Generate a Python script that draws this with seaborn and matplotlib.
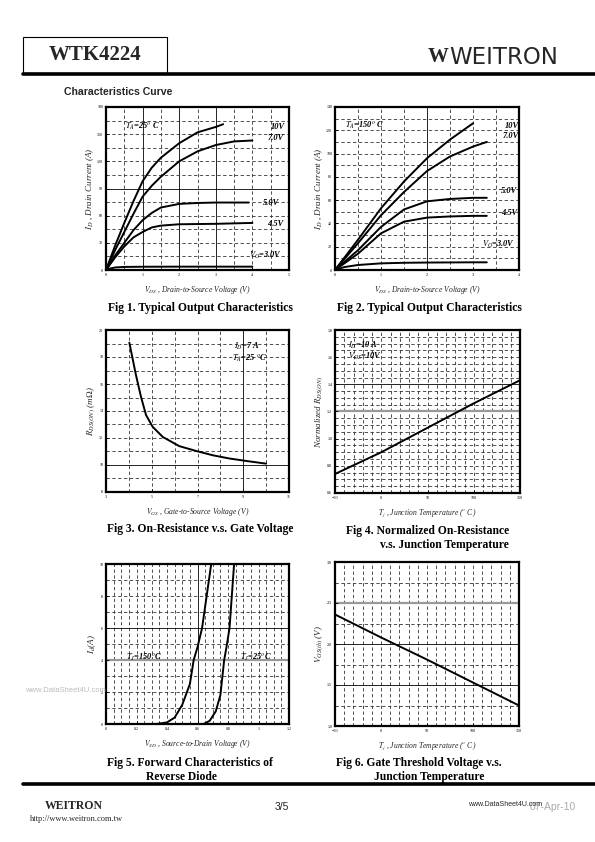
import numpy as np
import pandas as pd
import matplotlib
matplotlib.use('Agg')
import matplotlib.pyplot as plt
import seaborn as sns
from matplotlib.lines import Line2D
from matplotlib.patches import Rectangle

# ---- data ----
# Fig 1: output characteristics, TA = 25 C
f1_vds_10 = [0, 0.25, 0.5, 0.75, 1.0, 1.25, 1.5, 2.0, 2.5, 3.0, 3.2]
f1_id_10 = [0, 27, 52, 76, 98, 113, 124, 140, 152, 158, 161]
f1_vds_7 = [0, 0.25, 0.5, 0.75, 1.0, 1.25, 1.5, 2.0, 2.5, 3.0, 3.5, 4.0]
f1_id_7 = [0, 22, 42, 62, 81, 93, 103, 120, 131, 138, 142, 143]
f1_vds_5 = [0, 0.25, 0.5, 0.75, 1.0, 1.25, 1.5, 2.0, 2.5, 3.0, 3.5, 3.9]
f1_id_5 = [0, 16, 30, 44, 55, 63, 69, 73, 74, 74.5, 74.5, 74.5]
f1_vds_45 = [0, 0.25, 0.5, 0.75, 1.0, 1.25, 1.5, 2.0, 3.0, 4.0]
f1_id_45 = [0, 14, 26, 36, 42, 47, 49, 50.5, 51, 52]
f1_vds_3 = [0, 0.1, 0.25, 0.5, 1.0, 2.0, 3.0, 4.0]
f1_id_3 = [0, 1.5, 2.8, 3.4, 3.6, 3.7, 3.7, 3.7]

# Fig 2: output characteristics, TA = 150 C
f2_vds_10 = [0, 0.5, 1.0, 1.5, 2.0, 2.5, 3.0]
f2_id_10 = [0, 26, 53, 76, 96, 112, 126]
f2_vds_7 = [0, 0.5, 1.0, 1.5, 2.0, 2.5, 3.0, 3.3]
f2_id_7 = [0, 23, 47, 67, 85, 97.5, 106, 110]
f2_vds_5 = [0, 0.5, 1.0, 1.5, 2.0, 2.5, 3.0, 3.3]
f2_id_5 = [0, 17, 37, 52, 59, 61, 62, 62]
f2_vds_45 = [0, 0.5, 1.0, 1.5, 2.0, 2.5, 3.0, 3.3]
f2_id_45 = [0, 14, 31.5, 41.5, 45, 46, 46.5, 46.5]
f2_vds_3 = [0, 0.2, 0.5, 1.0, 1.5, 2.0, 3.0, 3.3]
f2_id_3 = [0, 2.5, 4.3, 5.7, 6.2, 6.4, 6.6, 6.6]

# Fig 3: on-resistance vs gate voltage
f3_vgs = [4.02, 4.31, 4.53, 4.75, 5.04, 5.48, 6.2, 6.94, 7.67, 8.4, 9.13, 10.0]
f3_rds = [19.06, 16.66, 15.05, 13.7, 12.83, 12.08, 11.4, 11.04, 10.72, 10.48, 10.3, 10.1]

# Fig 4: normalized on-resistance vs junction temperature
f4_tj = [-50, 0, 50, 100, 150]
f4_rn = [0.74, 0.90, 1.08, 1.26, 1.43]

# Fig 5: body diode forward characteristics
f5_vsd_150 = [0.33, 0.40, 0.45, 0.50, 0.55, 0.575, 0.60, 0.63, 0.66, 0.69]
f5_is_150 = [0, 0.1, 0.4, 1.2, 2.5, 4.0, 4.8, 6.0, 8.0, 10]
f5_vsd_25 = [0.64, 0.68, 0.72, 0.75, 0.775, 0.79, 0.81, 0.825, 0.84]
f5_is_25 = [0, 0.2, 0.8, 1.8, 4.0, 4.8, 6.0, 8.0, 10]

# Fig 6: gate threshold voltage vs junction temperature
f6_tj = [-50, 0, 50, 100, 150]
f6_vth = [2.36, 2.08, 1.81, 1.53, 1.25]

W, H = 595, 842
sns.set_theme(style='white')
plt.rcParams['font.family'] = ['Liberation Serif', 'DejaVu Serif']
plt.rcParams['mathtext.fontset'] = 'stix'

fig = plt.figure(figsize=(W / 100, H / 100), dpi=100)
fig.patch.set_facecolor('white')


def fx(x):
    return x / W


def fy(y):
    return 1 - y / H


def make_ax(x0, y0, x1, y1):
    ax = fig.add_axes([fx(x0), fy(y1), fx(x1 - x0), (y1 - y0) / H])
    for s in ax.spines.values():
        s.set_color('black')
        s.set_linewidth(1.6)
    ax.tick_params(direction='in', length=2, width=0.6, labelsize=3,
                   pad=2, colors='black', left=True, bottom=True)
    return ax


def grid(ax, xs, ys, solid_x=(), solid_y=(), gray_y=()):
    for v in xs:
        if v in solid_x:
            ax.axvline(v, color='black', lw=0.6, zorder=0)
        else:
            ax.axvline(v, color='#333333', lw=0.6, ls=(0, (4, 3)), zorder=0)
    for v in ys:
        if v in gray_y:
            ax.axhline(v, color='#999999', lw=1.6, zorder=0)
        elif v in solid_y:
            ax.axhline(v, color='black', lw=0.6, zorder=0)
        else:
            ax.axhline(v, color='#333333', lw=0.6, ls=(0, (4, 3)), zorder=0)


def curve(ax, x, y):
    d = pd.DataFrame({'x': x, 'y': y})
    sns.lineplot(data=d, x='x', y='y', ax=ax, color='black', lw=1.4,
                 sort=False, estimator=None)


def labels(ax, xl, yl):
    ax.set_xlabel(xl, fontsize=5.5, style='italic', labelpad=5)
    ax.set_ylabel(yl, fontsize=6.5, style='italic', labelpad=1)


ann = dict(fontsize=6, style='italic', fontweight='bold', color='black')
cap = dict(fontsize=8.4, fontweight='bold', color='black')

# ---- Fig 1 ----
ax1 = make_ax(106, 107, 289, 270)
grid(ax1, [0.5, 1, 1.5, 2, 2.5, 3, 3.5, 4, 4.5],
     [15, 30, 45, 60, 75, 90, 105, 120, 135, 150, 165],
     solid_x=(1, 2, 3), solid_y=(90,))
for x, y in [(f1_vds_10, f1_id_10), (f1_vds_7, f1_id_7), (f1_vds_5, f1_id_5),
             (f1_vds_45, f1_id_45), (f1_vds_3, f1_id_3)]:
    curve(ax1, x, y)
ax1.set_xlim(0, 5)
ax1.set_ylim(0, 180)
ax1.set_xticks([0, 1, 2, 3, 4, 5])
ax1.set_yticks([0, 30, 60, 90, 120, 150, 180])
labels(ax1, r'$V_{DS}$ , Drain-to-Source Voltage (V)', r'$I_D$ , Drain Current (A)')
ax1.text(0.52, 156, r'$T_A$=25$^o$ C', **ann)
ax1.text(4.5, 156, '10V', **ann)
ax1.text(4.43, 144, '7.0V', **ann)
ax1.text(4.28, 72, '5.0V', **ann)
ax1.text(4.39, 49, '4.5V', **ann)
ax1.text(3.9, 13, r'$V_G$=3.0V', **ann)

# ---- Fig 2 ----
ax2 = make_ax(335, 107, 519, 270)
grid(ax2, [0.5, 1, 1.5, 2, 2.5, 3, 3.5],
     [10, 20, 30, 40, 50, 60, 70, 80, 90, 100, 110, 120, 130],
     solid_x=(2,))
for x, y in [(f2_vds_10, f2_id_10), (f2_vds_7, f2_id_7), (f2_vds_5, f2_id_5),
             (f2_vds_45, f2_id_45), (f2_vds_3, f2_id_3)]:
    curve(ax2, x, y)
ax2.set_xlim(0, 4)
ax2.set_ylim(0, 140)
ax2.set_xticks([0, 1, 2, 3, 4])
ax2.set_yticks([0, 20, 40, 60, 80, 100, 120, 140])
labels(ax2, r'$V_{DS}$ , Drain-to-Source Voltage (V)', r'$I_D$ , Drain Current (A)')
ax2.text(0.22, 122, r'$T_A$=150$^o$ C', **ann)
ax2.text(3.7, 122, '10V', **ann)
ax2.text(3.65, 113, '7.0V', **ann)
ax2.text(3.6, 66, '5.0V', **ann)
ax2.text(3.62, 47, '4.5V', **ann)
ax2.text(3.19, 19.5, r'$V_G$=3.0V', **ann)

# ---- Fig 3 ----
ax3 = make_ax(106, 330, 289, 492)
grid(ax3, [4, 5, 6, 7, 8, 9, 10],
     [9, 10, 11, 12, 13, 14, 15, 16, 17, 18, 19],
     solid_x=(9,), solid_y=(10,))
curve(ax3, f3_vgs, f3_rds)
ax3.set_xlim(3, 11)
ax3.set_ylim(8, 20)
ax3.set_xticks([3, 5, 7, 9, 11])
ax3.set_yticks([8, 10, 12, 14, 16, 18, 20])
labels(ax3, r'$V_{GS}$ , Gate-to-Source Voltage (V)', r'$R_{DS(ON)}$ (m$\Omega$)')
ax3.text(8.6, 18.6, r'$I_D$=7 A', **ann)
ax3.text(8.5, 17.7, r'$T_A$=25 $^o$C', **ann)

# ---- Fig 4 ----
ax4 = make_ax(335, 330, 520, 493)
grid(ax4, list(range(-40, 150, 10)),
     [round(0.6 + 0.05 * i, 2) for i in range(1, 24)],
     solid_y=(1.4,), gray_y=(1.2,))
curve(ax4, f4_tj, f4_rn)
ax4.set_xlim(-50, 150)
ax4.set_ylim(0.6, 1.8)
ax4.set_xticks([-50, 0, 50, 100, 150])
ax4.set_yticks([0.6, 0.8, 1.0, 1.2, 1.4, 1.6, 1.8])
labels(ax4, r'$T_j$ , Junction Temperature ($^o$ C)', r'Normalized $R_{DS(ON)}$')
ax4.text(-36, 1.67, r'$I_D$=10 A', **ann)
ax4.text(-36, 1.585, r'$V_{GS}$=10V', **ann)

# ---- Fig 5 ----
ax5 = make_ax(106, 564, 289, 724)
grid(ax5, [round(0.05 * i, 2) for i in range(1, 24)],
     [1, 2, 3, 4, 5, 6, 7, 8, 9],
     solid_x=(0.6,), solid_y=(6,), gray_y=(4,))
curve(ax5, f5_vsd_150, f5_is_150)
curve(ax5, f5_vsd_25, f5_is_25)
ax5.set_xlim(0, 1.2)
ax5.set_ylim(0, 10)
ax5.set_xticks([0, 0.2, 0.4, 0.6, 0.8, 1.0, 1.2])
ax5.set_xticklabels(['0', '0.2', '0.4', '0.6', '0.8', '1', '1.2'])
ax5.set_yticks([0, 2, 4, 6, 8, 10])
labels(ax5, r'$V_{SD}$ , Source-to-Drain Voltage (V)', r'$I_d$(A)')
ax5.text(0.13, 4.05, r'$T_J$=150$^o$C', **ann)
ax5.text(0.88, 4.05, r'$T_J$=25$^o$C', **ann)

# ---- Fig 6 ----
ax6 = make_ax(335, 562, 519, 726)
grid(ax6, list(range(-40, 150, 10)),
     [1.25, 1.5, 1.75, 2.0, 2.25, 2.5, 2.75],
     solid_y=(1.5, 2.0), gray_y=(2.5,))
curve(ax6, f6_tj, f6_vth)
ax6.set_xlim(-50, 150)
ax6.set_ylim(1.0, 3.0)
ax6.set_xticks([-50, 0, 50, 100, 150])
ax6.set_yticks([1.0, 1.5, 2.0, 2.5, 3.0])
labels(ax6, r'$T_j$ , Junction Temperature ($^o$ C)', r'$V_{GS(th)}$ (V)')

# ---- captions ----
fig.text(fx(200), fy(308), 'Fig 1. Typical Output Characteristics', ha='center', va='center', **cap)
fig.text(fx(429), fy(308), 'Fig 2. Typical Output Characteristics', ha='center', va='center', **cap)
fig.text(fx(200), fy(529), 'Fig 3. On-Resistance v.s. Gate Voltage', ha='center', va='center', **cap)
fig.text(fx(509), fy(531), 'Fig 4. Normalized On-Resistance', ha='right', va='center', **cap)
fig.text(fx(509), fy(545), 'v.s. Junction Temperature', ha='right', va='center', **cap)
fig.text(fx(107), fy(763), 'Fig 5. Forward Characteristics of', ha='left', va='center', **cap)
fig.text(fx(146), fy(777), 'Reverse Diode', ha='left', va='center', **cap)
fig.text(fx(336), fy(763), 'Fig 6. Gate Threshold Voltage v.s.', ha='left', va='center', **cap)
fig.text(fx(374), fy(777), 'Junction Temperature', ha='left', va='center', **cap)

# ---- page header ----
fig.add_artist(Rectangle((fx(23), fy(73)), fx(144), 36 / H, transform=fig.transFigure,
                         fill=False, ec='black', lw=0.8))
fig.add_artist(Line2D([fx(23), fx(597)], [fy(73.5), fy(73.5)], transform=fig.transFigure,
                      color='black', lw=2.6))
fig.text(fx(95), fy(55), 'WTK4224', ha='center', va='center', fontsize=15, fontweight='bold')
fig.text(fx(428), fy(57), 'W', ha='left', va='center', fontsize=15, fontweight='bold')
fig.text(fx(449), fy(57), 'WEITRON', ha='left', va='center', fontsize=16.5,
         family=['DejaVu Sans'])
fig.text(fx(64), fy(92), 'Characteristics Curve', ha='left', va='center', fontsize=7.6,
         fontweight='bold', family=['Liberation Sans', 'DejaVu Sans'])

# watermark beside fig 5
fig.text(fx(25), fy(691), 'www.DataSheet4U.com', ha='left', va='center', fontsize=5.5,
         color='#bbbbbb', family=['Liberation Sans', 'DejaVu Sans'])

# ---- page footer ----
fig.add_artist(Line2D([fx(23), fx(597)], [fy(784), fy(784)], transform=fig.transFigure,
                      color='black', lw=2.6))
fig.text(fx(74), fy(806), 'WEITRON', ha='center', va='center', fontsize=8.5, fontweight='bold')
fig.text(fx(30), fy(819), 'http://www.weitron.com.tw', ha='left', va='center', fontsize=6)
fig.text(fx(282), fy(807), '3/5', ha='center', va='center', fontsize=7.5,
         family=['Liberation Sans', 'DejaVu Sans'])
fig.text(fx(530), fy(807), '07-Apr-10', ha='left', va='center', fontsize=7.5,
         color='#aaaaaa', family=['Liberation Sans', 'DejaVu Sans'])
fig.text(fx(468), fy(805), 'www.DataSheet4U.com', ha='left', va='center', fontsize=5,
         family=['Liberation Sans', 'DejaVu Sans'])

fig.savefig('out.png', dpi=100)
